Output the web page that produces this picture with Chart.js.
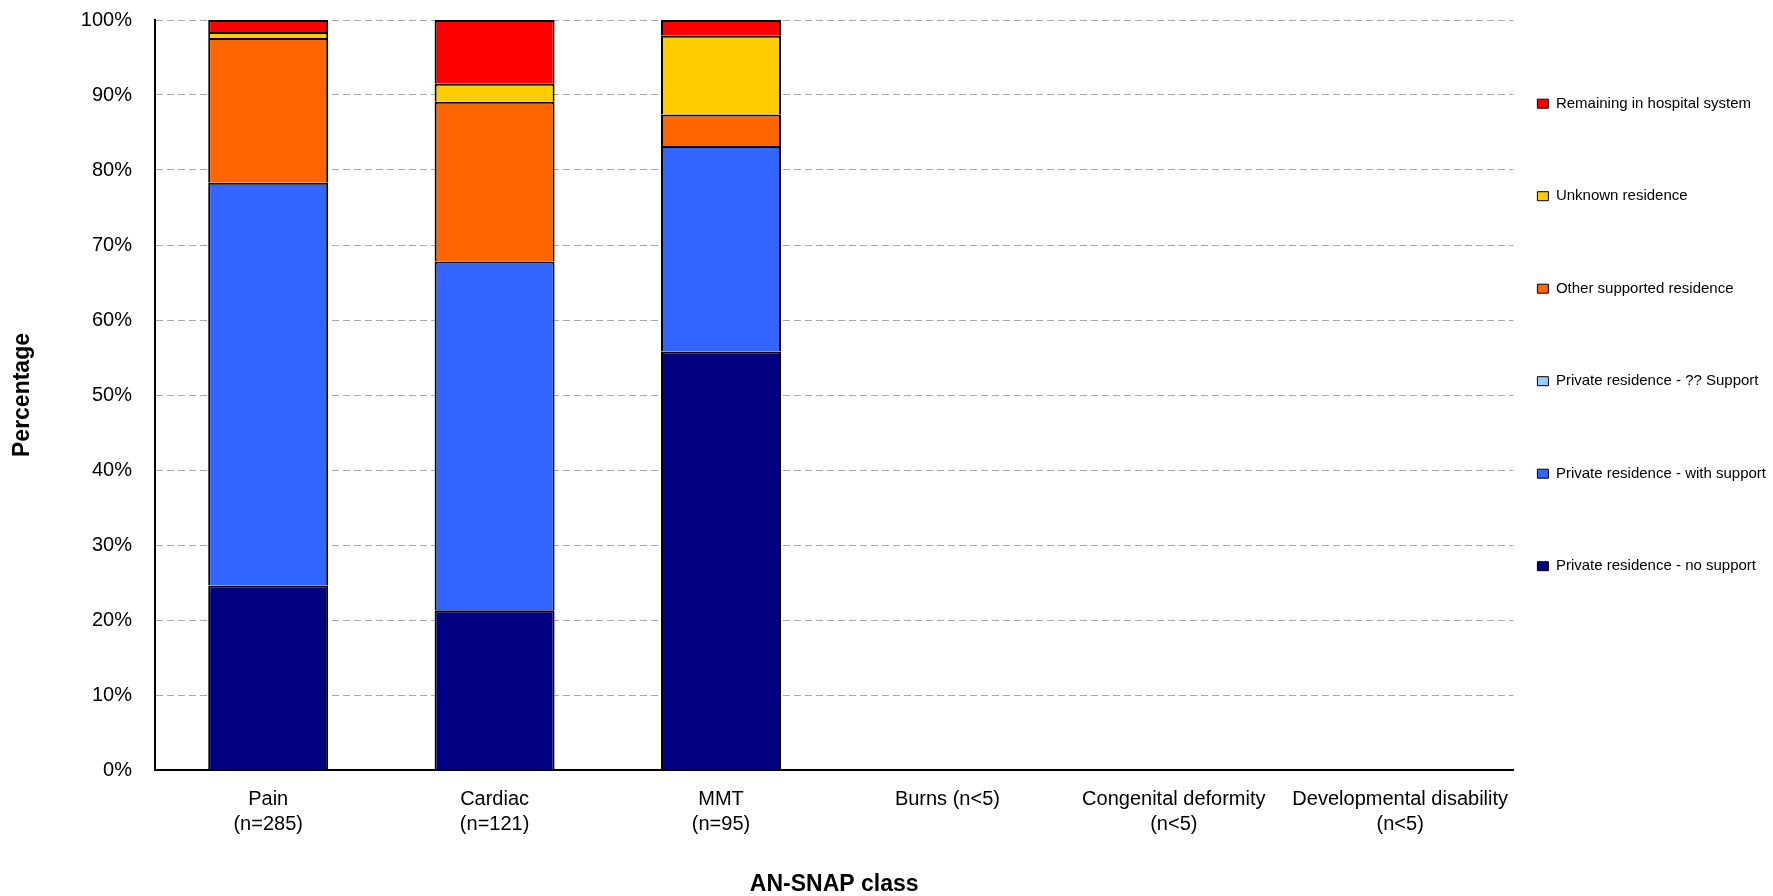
<!DOCTYPE html>
<html>
<head>
<meta charset="utf-8">
<script src="https://cdn.jsdelivr.net/npm/chart.js@4/dist/chart.umd.min.js"></script>
<style>
  html, body { margin: 0; padding: 0; background: #ffffff; }
  #wrap { width: 1773px; height: 896px; position: relative; }
</style>
</head>
<body>
<div id="wrap"><canvas id="chart" width="1773" height="896"></canvas></div>
<script>
// ---------- data ----------
const categories = [
  ['Pain', '(n=285)'],
  ['Cardiac', '(n=121)'],
  ['MMT', '(n=95)'],
  'Burns (n<5)',
  ['Congenital deformity', '(n<5)'],
  ['Developmental disability', '(n<5)']
];
const seriesNames = [
  'Private residence - no support',
  'Private residence - with support',
  'Private residence - ?? Support',
  'Other supported residence',
  'Unknown residence',
  'Remaining in hospital system'
];
const noSupport        = [24.6, 21.3, 55.8, null, null, null];
const withSupport      = [53.7, 46.5, 27.4, null, null, null];
const unknownSupport   = [0, 0, 0, null, null, null];
const otherSupported   = [19.3, 21.3, 4.2, null, null, null];
const unknownResidence = [0.8, 2.4, 10.5, null, null, null];
const remaining        = [1.6, 8.5, 2.1, null, null, null];
const yTicks = [0, 10, 20, 30, 40, 50, 60, 70, 80, 90, 100];
const xTitle = 'AN-SNAP class';
const yTitle = 'Percentage';

// ---------- styling ----------
const seriesColors = ['#000080', '#3366FF', '#99CCFF', '#FF6600', '#FFCC00', '#FF0000'];
const seriesValues = [noSupport, withSupport, unknownSupport, otherSupported, unknownResidence, remaining];

const fam = '"Liberation Sans", Arial, sans-serif';
const tickSize = 20;
const legendSize = 15;
const titleSize = 23;

Chart.defaults.color = '#000';
Chart.defaults.font.family = fam;

const datasets = seriesNames.map((name, i) => ({
  label: name,
  data: seriesValues[i],
  backgroundColor: seriesColors[i],
  borderColor: '#000',
  borderWidth: 2,
  inflateAmount: 0,
  categoryPercentage: 1.0,
  barPercentage: 0.53
}));

const legendPadding = 24;
const legendRowGap = 92.5;

new Chart(document.getElementById('chart'), {
  type: 'bar',
  data: { labels: categories, datasets: datasets },
  options: {
    responsive: false,
    animation: false,
    layout: { padding: { top: 20, right: -3, bottom: 0, left: 0 } },
    plugins: {
      tooltip: { enabled: false },
      legend: {
        position: 'right',
        align: 'start',
        reverse: true,
        title: { display: true, text: ' ', font: { size: 10, lineHeight: 1 }, padding: { top: 42.2, bottom: 0 } },
        labels: {
          boxWidth: 11,
          boxHeight: 9,
          padding: legendPadding,
          color: '#000',
          font: { family: fam, size: legendSize, lineHeight: (legendRowGap - legendPadding) / legendSize },
          generateLabels: (chart) => {
            const items = Chart.defaults.plugins.legend.labels.generateLabels(chart);
            return items.map(it => Object.assign(it, { text: [it.text], lineWidth: 1, strokeStyle: '#000' }));
          }
        }
      }
    },
    scales: {
      x: {
        stacked: true,
        offset: true,
        grid: { display: false, drawTicks: false },
        border: { display: true, color: '#000', width: 2, z: 1 },
        ticks: {
          padding: 17,
          maxRotation: 0,
          autoSkip: false,
          color: '#000',
          font: { family: fam, size: tickSize, lineHeight: 25 / tickSize }
        },
        title: {
          display: true,
          text: xTitle,
          color: '#000',
          font: { family: fam, size: titleSize, weight: 'bold', lineHeight: 1 },
          padding: { top: 0, bottom: 0 }
        },
        afterFit: (scale) => { scale.height = 126; scale.paddingLeft = 0; scale.paddingRight = 0; }
      },
      y: {
        stacked: true,
        min: 0,
        max: 100,
        afterBuildTicks: (scale) => { scale.ticks = yTicks.map(v => ({ value: v })); },
        grid: {
          drawTicks: false,
          color: (ctx) => (ctx.tick && ctx.tick.value === 0) ? 'rgba(0,0,0,0)' : '#A6A6A6',
          lineWidth: 1
        },
        border: { display: true, color: '#000', width: 2, dash: [7, 4], z: 1 },
        ticks: {
          padding: 23,
          color: '#000',
          font: { family: fam, size: tickSize },
          callback: (v) => v + '%'
        },
        title: {
          display: true,
          text: yTitle,
          color: '#000',
          font: { family: fam, size: titleSize, weight: 'bold', lineHeight: 1 },
          padding: { top: 11.5, bottom: 0 }
        },
        afterFit: (scale) => { scale.width = 155; scale.paddingTop = 0; scale.paddingBottom = 0; }
      }
    }
  }
});
</script>
</body>
</html>
